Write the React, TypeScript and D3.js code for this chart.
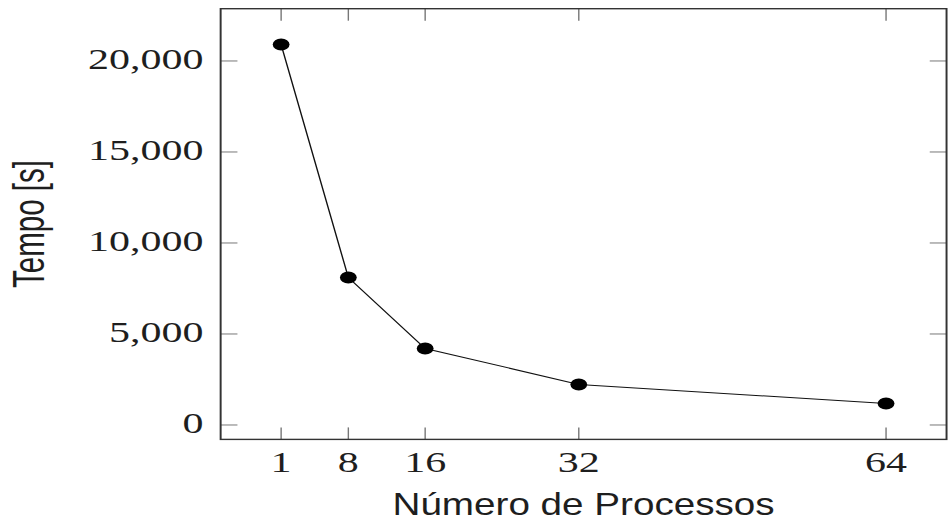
import React from "react";
import * as d3 from "d3";

const processes = [1, 8, 16, 32, 64];
const times = [20900, 8100, 4200, 2230, 1180];
const xTicks = [1, 8, 16, 32, 64];
const yTicks = [0, 5000, 10000, 15000, 20000];
const xLabel = "Número de Processos";
const yLabel = "Tempo [s]";

export default function App() {
  const W = 950;
  const H = 521;
  const SX = 1.4;
  const left = 157.6;
  const right = 676.1;
  const top = 8.7;
  const bottom = 439.4;
  const tickLen = 12;

  const xmin = d3.min(processes) as number;
  const xmax = d3.max(processes) as number;
  const ymin = d3.min(times) as number;
  const ymax = d3.max(times) as number;
  const ex = 0.1 * (xmax - xmin);
  const ey = 0.1 * (ymax - ymin);

  const x = d3.scaleLinear().domain([xmin - ex, xmax + ex]).range([left, right]);
  const y = d3.scaleLinear().domain([ymin - ey, ymax + ey]).range([bottom, top]);

  const pts = processes.map((p, i) => [p, times[i]] as [number, number]);
  const line = d3
    .line<[number, number]>()
    .x((d) => x(d[0]))
    .y((d) => y(d[1]));
  const fmt = d3.format(",");

  const serif = "'Liberation Serif', 'DejaVu Serif', serif";
  const sans = "'Liberation Sans', Arial, sans-serif";
  const textColor = "#1e1e1e";
  const tickColor = "#777";

  return (
    <svg
      width={W}
      height={H}
      style={{ position: "absolute", left: 0, top: 0, background: "#fff" }}
    >
      <rect x={0} y={0} width={W} height={H} fill="#fff" />
      <g transform={`scale(${SX},1)`}>
        {/* ticks */}
        {xTicks.map((t) => (
          <g key={"xt" + t}>
            <line x1={x(t)} x2={x(t)} y1={bottom} y2={bottom - tickLen} stroke={tickColor} strokeWidth={1} />
            <line x1={x(t)} x2={x(t)} y1={top} y2={top + tickLen} stroke={tickColor} strokeWidth={1} />
            <text
              x={x(t)}
              y={471.7}
              textAnchor="middle"
              fontFamily={serif}
              fontSize={30}
              fill={textColor}
            >
              {t}
            </text>
          </g>
        ))}
        {yTicks.map((t) => (
          <g key={"yt" + t}>
            <line x1={left} x2={left + tickLen} y1={y(t)} y2={y(t)} stroke={tickColor} strokeWidth={1} />
            <line x1={right} x2={right - tickLen} y1={y(t)} y2={y(t)} stroke={tickColor} strokeWidth={1} />
            <text
              x={145.3}
              y={y(t) + 7.6}
              textAnchor="end"
              fontFamily={serif}
              fontSize={30}
              fill={textColor}
            >
              {fmt(t)}
            </text>
          </g>
        ))}

        {/* frame */}
        <rect
          x={left}
          y={top}
          width={right - left}
          height={bottom - top}
          fill="none"
          stroke="#333"
          strokeWidth={1.4}
        />

        {/* data line */}
        <path d={line(pts) || ""} fill="none" stroke="#111" strokeWidth={1} />
        {pts.map((d, i) => (
          <circle key={"pt" + i} cx={x(d[0])} cy={y(d[1])} r={6} fill="#000" />
        ))}

        {/* axis labels */}
        <text
          x={(left + right) / 2}
          y={515}
          textAnchor="middle"
          fontFamily={sans}
          fontSize={32}
          textLength={273}
          lengthAdjust="spacingAndGlyphs"
          fill={textColor}
        >
          {xLabel}
        </text>
        <text
          transform={`translate(31.2, ${(top + bottom) / 2}) rotate(-90)`}
          x={0}
          y={0}
          textAnchor="middle"
          fontFamily={sans}
          fontSize={32}
          textLength={128}
          lengthAdjust="spacingAndGlyphs"
          fill={textColor}
        >
          {yLabel}
        </text>
      </g>
    </svg>
  );
}
